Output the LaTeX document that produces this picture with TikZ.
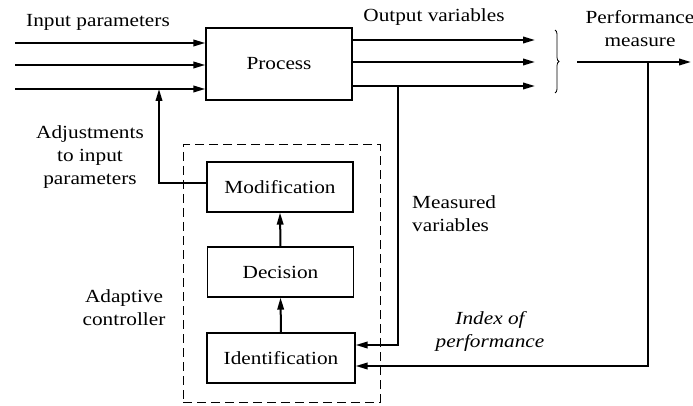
\documentclass[tikz,border=0pt]{standalone}
\usepackage{fontspec}
\setmainfont{Liberation Serif}[FakeStretch=1.15]
\usetikzlibrary{arrows.meta,decorations.pathreplacing,calc}

\begin{document}
\begin{tikzpicture}[x=1pt,y=-1pt,
  font=\fontsize{18.5}{23}\selectfont,
  block/.style={draw,line width=1.3pt,minimum width=146pt,minimum height=50pt,inner sep=0pt},
  flow/.style={line width=2pt,-{Triangle[length=12pt,width=6.5pt]}},
  lbl/.style={inner sep=0pt,align=center},
  ]
\useasboundingbox (0,0) rectangle (693,406);

% blocks
\node[block,minimum height=72pt] (process) at (279,64) {Process};
\node[block] (modif) at (280,187) {Modification};
\node[block] (decision) at (280.5,272) {Decision};
\node[block,minimum width=148pt] (ident) at (281,358) {Identification};
\node[draw,line width=1pt,dash pattern=on 9pt off 5pt,
      minimum width=197pt,minimum height=257pt] (ctrl) at (281.5,273.5) {};

% inputs and outputs of the process
\foreach \y/\n in {43/1,65/2,89/3} {
  \coordinate (in\n) at (15,\y);
  \draw[flow] (in\n) -- (in\n -| process.west);
}
\foreach \y/\n in {40/1,62/2,86/3} {
  \coordinate (out\n) at (535,\y);
  \draw[flow] (out\n -| process.east) -- (out\n);
}

% brace grouping the outputs
\coordinate (btop) at (555,30);
\coordinate (bbot) at (555,93);
\draw[decorate,decoration={brace,amplitude=4pt},line width=0.8pt] (btop) -- (bbot);

% performance measure and its feedback
\coordinate (pm) at (577,62);
\coordinate (pmend) at (691,62);
\coordinate (tap) at (648,62);
\draw[flow] (pm) -- (pmend);
\draw[flow] (tap) |- ([yshift=-8pt]ident.east);

% measured variables
\coordinate (mv) at (398,86);
\draw[flow] (mv) |- ([yshift=13pt]ident.east);

% inside the controller
\draw[flow] (ident.north) -- (decision.south);
\draw[flow] (decision.north) -- (modif.south);

% adjustments back to the inputs
\coordinate (adj) at (159,89);
\draw[flow] ([yshift=4pt]modif.west) -| (adj);

% labels
\node[lbl] (lin) at (98,22) {Input parameters};
\node[lbl] (lout) at (434,17) {Output variables};
\node[lbl] (lpm) at (640,29) {Performance\\measure};
\node[lbl] (ladj) at (90,157) {Adjustments\\to input\\parameters};
\node[lbl,anchor=west,align=left] (lmv) at (412,214) {Measured\\variables};
\node[lbl] (lac) at (124,308) {Adaptive\\controller};
\node[lbl,font=\fontsize{18.5}{23}\selectfont\itshape] (lip) at (490,331) {Index of\\performance};
\end{tikzpicture}
\end{document}
